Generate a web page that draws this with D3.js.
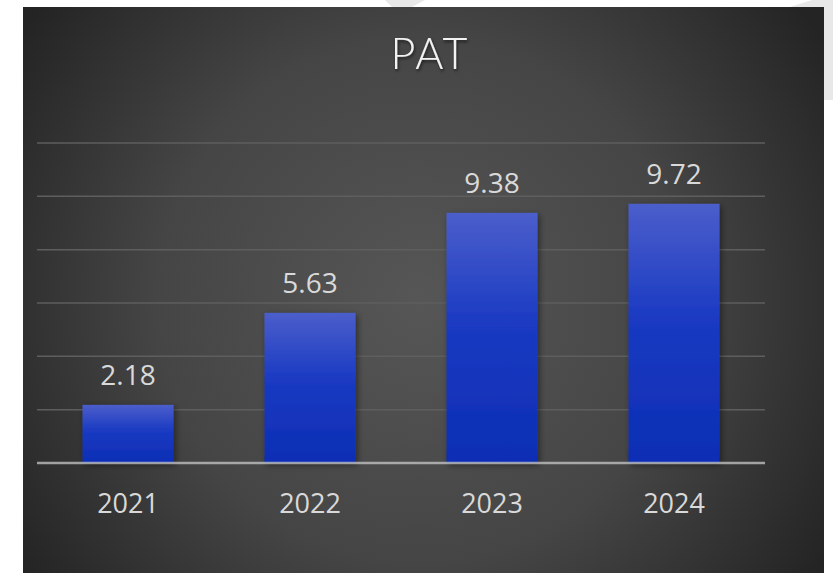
<!DOCTYPE html>
<html><head><meta charset="utf-8">
<script src="https://cdn.jsdelivr.net/npm/d3@7"></script>
<style>html,body{margin:0;padding:0;background:#fff;}svg{display:block;}</style>
</head><body>
<script>
const categories = ["2021", "2022", "2023", "2024"];
const values = [2.18, 5.63, 9.38, 9.72];
const labels = ["2.18", "5.63", "9.38", "9.72"];
const yTicks = [0, 2, 4, 6, 8, 10, 12];
const title = "PAT";

const W = 833, H = 573;
const svg = d3.select("body").append("svg").attr("width", W).attr("height", H);
const defs = svg.append("defs");

const bg = defs.append("radialGradient").attr("id", "bg")
  .attr("gradientUnits", "userSpaceOnUse").attr("cx", 420).attr("cy", 300).attr("r", 480);
bg.append("stop").attr("offset", "0%").attr("stop-color", "#565656");
bg.append("stop").attr("offset", "55%").attr("stop-color", "#454545");
bg.append("stop").attr("offset", "100%").attr("stop-color", "#242424");

const bar = defs.append("linearGradient").attr("id", "bar").attr("x1", 0).attr("y1", 0).attr("x2", 0).attr("y2", 1);
bar.append("stop").attr("offset", "0%").attr("stop-color", "#4b5ecb");
bar.append("stop").attr("offset", "45%").attr("stop-color", "#1a3ac2");
bar.append("stop").attr("offset", "100%").attr("stop-color", "#0c2eb4");

const sh = defs.append("filter").attr("id", "shadow").attr("x", "-20%").attr("y", "-20%").attr("width", "140%").attr("height", "140%");
sh.append("feDropShadow").attr("dx", 2).attr("dy", 2).attr("stdDeviation", 3).attr("flood-color", "#000").attr("flood-opacity", 0.45);

const tsh = defs.append("filter").attr("id", "tshadow").attr("x", "-20%").attr("y", "-20%").attr("width", "140%").attr("height", "160%");
tsh.append("feDropShadow").attr("dx", 1).attr("dy", 2).attr("stdDeviation", 1.5).attr("flood-color", "#000").attr("flood-opacity", 0.6);

// page decorations outside chart
svg.append("polygon").attr("points", "385,0 425,0 412,7 392,7").attr("fill", "#e8e8e8");
svg.append("polygon").attr("points", "790,7 812,0 833,0 833,100 824,100 824,7").attr("fill", "#e8e8e8");

// chart area
svg.append("rect").attr("x", 23).attr("y", 7).attr("width", 801).attr("height", 566).attr("fill", "url(#bg)");

const x = d3.scaleBand().domain(categories).range([37, 765]).paddingInner(0.5).paddingOuter(0.25);
const y = d3.scaleLinear().domain([0, 12]).range([463, 143]);

// gridlines
svg.append("g").selectAll("line").data(yTicks.filter(d => d > 0)).join("line")
  .attr("x1", 37).attr("x2", 765)
  .attr("y1", d => y(d)).attr("y2", d => y(d))
  .attr("stroke", "#5e5e5e").attr("stroke-width", 1.5);

// bars
svg.append("g").selectAll("rect").data(values).join("rect")
  .attr("x", (d, i) => x(categories[i]))
  .attr("y", d => y(d))
  .attr("width", x.bandwidth())
  .attr("height", d => y(0) - y(d))
  .attr("fill", "url(#bar)")
  .attr("filter", "url(#shadow)");

// baseline axis
const xAxis = d3.axisBottom(x).tickSize(0).tickPadding(0);
const ax = svg.append("g").attr("transform", `translate(0,${y(0)})`).call(xAxis);
ax.select(".domain").attr("d", "M37,0H765").attr("stroke", "rgba(200,200,200,0.75)").attr("stroke-width", 2.5);
ax.selectAll(".tick text")
  .attr("y", 50).attr("dy", 0)
  .attr("fill", "#d9d9d9")
  .attr("font-family", "'Open Sans', sans-serif")
  .attr("font-size", 27);

// value labels
svg.append("g").selectAll("text").data(values).join("text")
  .attr("x", (d, i) => x(categories[i]) + x.bandwidth() / 2)
  .attr("y", d => y(d) - 20)
  .attr("text-anchor", "middle")
  .attr("fill", "#d9d9d9")
  .attr("font-family", "'Open Sans', sans-serif")
  .attr("font-size", 28)
  .text((d, i) => labels[i]);

// title
svg.append("text").attr("x", 430).attr("y", 69).attr("text-anchor", "middle")
  .attr("fill", "#f2f2f2")
  .attr("font-family", "Lato, sans-serif").attr("font-weight", 300)
  .attr("font-size", 43).attr("letter-spacing", 2)
  .attr("filter", "url(#tshadow)")
  .text(title);
</script>
</body></html>
